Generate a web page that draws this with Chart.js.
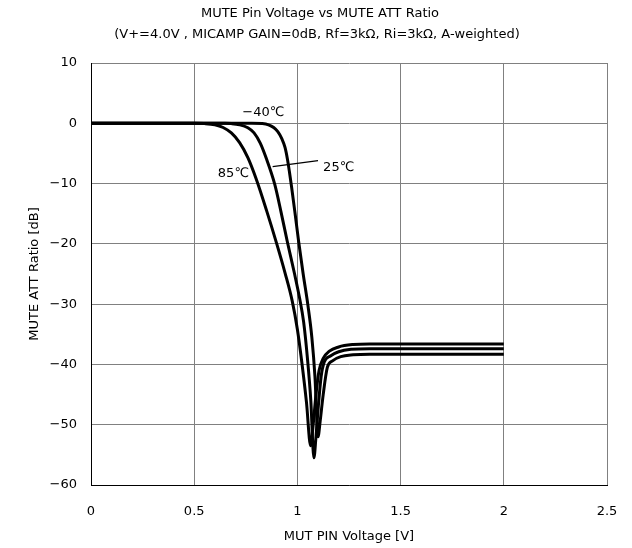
<!DOCTYPE html>
<html>
<head>
<meta charset="utf-8">
<script src="https://cdn.jsdelivr.net/npm/chart.js@4/dist/chart.umd.min.js"></script>
<style>
  html, body { margin: 0; padding: 0; background: #fff; }
</style>
</head>
<body>
<canvas id="myChart" width="632" height="548"></canvas>
<script>
const titleLines = [
  "MUTE Pin Voltage vs MUTE ATT Ratio",
  "(V+=4.0V , MICAMP GAIN=0dB, Rf=3kΩ, Ri=3kΩ, A-weighted)"
]
const xTitle = "MUT PIN Voltage [V]"
const yTitle = "MUTE ATT Ratio [dB]"

// 85℃
const volt85 = [0, 0.5, 0.55, 0.6, 0.64, 0.68, 0.72, 0.76, 0.8, 0.85, 0.9, 0.94, 0.975, 1.0, 1.022, 1.044, 1.064, 1.075, 1.09, 1.105, 1.125, 1.155, 1.2, 1.27, 1.35, 2.0]
const att85  = [0, 0, -0.05, -0.25, -0.7, -1.6, -3.2, -5.7, -9.2, -14.4, -20, -24.8, -29.5, -34.2, -39.8, -46.3, -53.5, -50.5, -45, -41, -39, -37.8, -37.1, -36.7, -36.6, -36.6]

// 25℃
const volt25 = [0, 0.65, 0.68, 0.72, 0.76, 0.79, 0.82, 0.85, 0.89, 0.92, 0.951, 0.985, 1.01, 1.03, 1.05, 1.065, 1.08, 1.09, 1.1, 1.115, 1.13, 1.16, 1.2, 1.26, 1.35, 2.0]
const att25  = [0, 0, -0.05, -0.25, -0.75, -1.6, -3.3, -5.9, -10.1, -14.6, -19.6, -24.8, -28.9, -32.9, -39.5, -46, -55.5, -52, -47.5, -42, -39.6, -38.6, -37.9, -37.5, -37.4, -37.4]

// -40℃
const voltM40 = [0, 0.78, 0.83, 0.86, 0.885, 0.905, 0.925, 0.94, 0.952, 0.962, 0.972, 0.99, 1.006, 1.028, 1.051, 1.07, 1.085, 1.1, 1.11, 1.125, 1.145, 1.17, 1.21, 1.27, 1.35, 2.0]
const attM40  = [0, 0, -0.05, -0.25, -0.7, -1.4, -2.6, -4, -6, -8.2, -10.6, -15.3, -19.6, -25, -30.2, -35.5, -42, -52, -49.5, -45, -40.5, -39.4, -38.7, -38.4, -38.3, -38.3]

const xTicks = [0, 0.5, 1, 1.5, 2, 2.5]
const yTicks = [10, 0, -10, -20, -30, -40, -50, -60]

// curve labels, placed in data units
const curveLabels = [
  { text: "−40℃", x: 0.835, y: 1.8 },
  { text: "25℃", x: 1.2, y: -7.4 },
  { text: "85℃", x: 0.69, y: -8.3 }
]
const leader = [[0.88, -7.2], [1.1, -6.2]]

const fontFamily = '"DejaVu Sans", sans-serif'

function toPoints(xs, ys) {
  return xs.map((x, i) => ({ x: x, y: ys[i] }))
}

const lineStyle = {
  borderColor: '#000',
  borderWidth: 3,
  pointRadius: 0,
  fill: false,
  cubicInterpolationMode: 'monotone'
}

const textPlugin = {
  id: 'texts',
  afterDraw(chart) {
    const ctx = chart.ctx
    const xs = chart.scales.x
    const ys = chart.scales.y
    const area = chart.chartArea
    ctx.save()
    ctx.fillStyle = '#000'
    ctx.font = '13px ' + fontFamily
    ctx.textAlign = 'center'
    ctx.textBaseline = 'middle'
    ctx.fillText(titleLines[0], 320, 14)
    ctx.fillText(titleLines[1], 317, 35)
    ctx.fillText(xTitle, (area.left + area.right) / 2, 537)
    ctx.save()
    ctx.translate(35, (area.top + area.bottom) / 2)
    ctx.rotate(-Math.PI / 2)
    ctx.fillText(yTitle, 0, 0)
    ctx.restore()

    curveLabels.forEach(l => {
      ctx.fillText(l.text, xs.getPixelForValue(l.x), ys.getPixelForValue(l.y))
    })
    ctx.strokeStyle = '#000'
    ctx.lineWidth = 1.2
    ctx.beginPath()
    ctx.moveTo(xs.getPixelForValue(leader[0][0]), ys.getPixelForValue(leader[0][1]))
    ctx.lineTo(xs.getPixelForValue(leader[1][0]), ys.getPixelForValue(leader[1][1]))
    ctx.stroke()
    ctx.restore()
  }
}

const myChart = document.getElementById('myChart').getContext('2d')

const attChart = new Chart(myChart, {
  type: 'line',
  data: {
    datasets: [
      Object.assign({ label: '85℃', data: toPoints(volt85, att85) }, lineStyle),
      Object.assign({ label: '25℃', data: toPoints(volt25, att25) }, lineStyle),
      Object.assign({ label: '-40℃', data: toPoints(voltM40, attM40) }, lineStyle)
    ]
  },
  options: {
    responsive: false,
    animation: false,
    layout: { padding: { top: 63, right: 25, bottom: 0, left: 0 } },
    plugins: {
      legend: { display: false },
      tooltip: { enabled: false }
    },
    scales: {
      x: {
        type: 'linear',
        min: 0,
        max: 2.5,
        afterFit: s => {
          s.height = 63
          s.paddingLeft = 0
          s.paddingRight = 0
        },
        afterBuildTicks: s => { s.ticks = xTicks.map(v => ({ value: v })) },
        grid: { color: '#808080', drawTicks: false },
        border: { color: '#000', width: 1 },
        ticks: {
          padding: 19,
          color: '#000',
          font: { family: fontFamily, size: 13 },
          maxRotation: 0,
          callback: v => String(v)
        }
      },
      y: {
        type: 'linear',
        min: -60,
        max: 10,
        afterFit: s => {
          s.width = 91
          s.paddingTop = 0
          s.paddingBottom = 0
        },
        afterBuildTicks: s => { s.ticks = yTicks.map(v => ({ value: v })) },
        grid: { color: '#808080', drawTicks: false },
        border: { color: '#000', width: 1 },
        ticks: {
          padding: 14,
          color: '#000',
          font: { family: fontFamily, size: 13 },
          callback: v => v < 0 ? '−' + Math.abs(v) : String(v)
        }
      }
    }
  },
  plugins: [textPlugin]
})
</script>
</body>
</html>
